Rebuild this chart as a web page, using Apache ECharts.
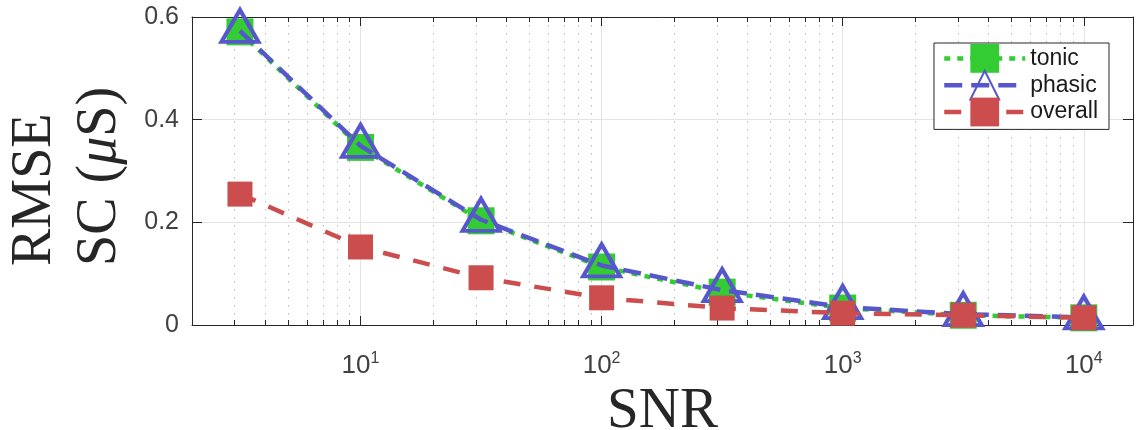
<!DOCTYPE html>
<html>
<head>
<meta charset="utf-8">
<script src="https://cdn.jsdelivr.net/npm/echarts@6/dist/echarts.min.js"></script>
<style>
html,body{margin:0;padding:0;background:#fff;}
#chart{width:1140px;height:430px;}
</style>
</head>
<body>
<div id="chart"></div>
<script>
// ---- data ----
const snr = [3.162, 10, 31.62, 100, 316.2, 1000, 3162, 10000];
const tonic = [0.571, 0.346, 0.203, 0.113, 0.064, 0.033, 0.019, 0.014];
const phasic = [0.573, 0.349, 0.205, 0.116, 0.068, 0.035, 0.021, 0.015];
const overall = [0.255, 0.152, 0.092, 0.053, 0.033, 0.023, 0.019, 0.014];
const seriesNames = ['tonic', 'phasic', 'overall'];
const yTicks = [0, 0.2, 0.4, 0.6];
const xMajorTicks = [10, 100, 1000, 10000];
const xMinorTicks = [3, 4, 5, 6, 7, 8, 9, 20, 30, 40, 50, 60, 70, 80, 90,
  200, 300, 400, 500, 600, 700, 800, 900, 2000, 3000, 4000, 5000, 6000, 7000, 8000, 9000];
const xRange = [2, 16000];

const C_GREEN = '#33cc33', C_BLUE = '#5757cc', C_RED = '#cc4d4d';
const AX = '#262626';
const LBL = '#404040';

const chart = echarts.init(document.getElementById('chart'));

function pair(xs, ys) { return xs.map((x, i) => [x, ys[i]]); }

function xLabel(v) {
  const e = Math.round(Math.log10(v));
  if (xMajorTicks.indexOf(Math.pow(10, e)) < 0 || Math.abs(v - Math.pow(10, e)) > 1e-6 * v) return '';
  return '{b|10}{s|' + e + '}';
}

const option = {
  animation: false,
  backgroundColor: '#fff',
  grid: { left: 192, top: 17, right: 7, bottom: 105, containLabel: false, outerBoundsMode: 'none' },
  xAxis: [{
    type: 'log', logBase: 10, min: xRange[0], max: xRange[1],
    name: 'SNR', nameLocation: 'middle', nameGap: 57,
    nameTextStyle: { fontFamily: 'Liberation Serif', fontSize: 57, color: AX },
    axisLine: { show: true, lineStyle: { color: AX, width: 1 } },
    axisTick: { show: true, inside: true, length: 9, lineStyle: { color: AX } },
    axisLabel: {
      showMinLabel: false, showMaxLabel: false, margin: 26,
      formatter: xLabel,
      rich: {
        b: { fontFamily: 'Liberation Sans', fontSize: 26, color: LBL },
        s: { fontFamily: 'Liberation Sans', fontSize: 16, color: LBL, padding: [0, 0, 13, 0] }
      }
    },
    splitLine: { show: true, lineStyle: { color: '#e3e3e3', width: 1 } }
  }, {
    type: 'log', logBase: 10, min: xRange[0], max: xRange[1], position: 'top',
    axisLine: { show: true, onZero: false, lineStyle: { color: AX, width: 1 } },
    axisTick: { show: true, inside: true, length: 9, lineStyle: { color: AX } },
    axisLabel: { show: false }, splitLine: { show: false }
  }],
  yAxis: [{
    type: 'value', min: 0, max: 0.6, interval: 0.2,
    axisLine: { show: true, lineStyle: { color: AX, width: 1 } },
    axisTick: { show: true, inside: true, length: 10, lineStyle: { color: AX } },
    axisLabel: {
      margin: 13, fontFamily: 'Liberation Sans', fontSize: 25, color: LBL,
      formatter: v => (yTicks.indexOf(Math.round(v * 10) / 10) >= 0 ? String(Math.round(v * 10) / 10) : '')
    },
    splitLine: { show: true, lineStyle: { color: '#e3e3e3', width: 1 } }
  }, {
    type: 'value', min: 0, max: 0.6, interval: 0.2, position: 'right',
    axisLine: { show: true, onZero: false, lineStyle: { color: AX, width: 1 } },
    axisTick: { show: true, inside: true, length: 10, lineStyle: { color: AX } },
    axisLabel: { show: false }, splitLine: { show: false }
  }],
  legend: {
    data: seriesNames,
    orient: 'vertical', right: 31, top: 43,
    backgroundColor: '#fff', borderColor: AX, borderWidth: 1,
    padding: [1, 11, 3, 8],
    itemWidth: 81, itemHeight: 36, itemGap: -3,
    lineStyle: { width: 4.5 },
    textStyle: { fontFamily: 'Liberation Sans', fontSize: 23, color: '#1a1a1a' }
  },
  graphic: [{
    type: 'text', x: 3, y: 266, rotation: Math.PI / 2,
    style: {
      text: '{a|RMSE}\n{a|SC (}{i|μ}{a|S)}',
      align: 'left', verticalAlign: 'top',
      rich: {
        a: { fontFamily: 'Liberation Serif', fontSize: 56, lineHeight: 65, fill: AX },
        i: { fontFamily: 'Liberation Serif', fontStyle: 'italic', fontSize: 56, lineHeight: 65, fill: AX }
      }
    }
  }],
  series: [{
    type: 'custom', name: 'minor', silent: true, z: 1,
    xAxisIndex: 0, yAxisIndex: 0,
    data: xMinorTicks.map(v => [v, 0]),
    renderItem: function (params, api) {
      const x = api.value(0);
      const pb = api.coord([x, 0]);
      const pt = api.coord([x, 0.6]);
      const px = Math.round(pb[0]) + 0.5;
      return {
        type: 'group', children: [
          { type: 'line', shape: { x1: px, y1: pt[1], x2: px, y2: pb[1] },
            style: { stroke: '#b8b8b8', lineWidth: 1, lineDash: [1.5, 6.5] } },
          { type: 'line', shape: { x1: px, y1: pb[1], x2: px, y2: pb[1] - 5 },
            style: { stroke: AX, lineWidth: 1 } },
          { type: 'line', shape: { x1: px, y1: pt[1], x2: px, y2: pt[1] + 5 },
            style: { stroke: AX, lineWidth: 1 } }
        ]
      };
    }
  }, {
    name: 'tonic', type: 'line', z: 3,
    data: pair(snr, tonic),
    symbol: 'rect', symbolSize: 27,
    itemStyle: { color: C_GREEN },
    lineStyle: { color: C_GREEN, width: 4.5, type: [6, 7], cap: 'butt' }
  }, {
    name: 'phasic', type: 'line', z: 4,
    data: pair(snr, phasic),
    symbol: 'triangle', symbolSize: [37, 32], symbolOffset: [0, -5],
    itemStyle: { color: 'rgba(0,0,0,0)', borderColor: C_BLUE, borderWidth: 4 },
    lineStyle: { color: C_BLUE, width: 4.5, type: [18, 9], cap: 'butt' }
  }, {
    name: 'overall', type: 'line', z: 5,
    data: pair(snr, overall),
    symbol: 'rect', symbolSize: 25,
    itemStyle: { color: C_RED },
    lineStyle: { color: C_RED, width: 4.5, type: [17, 14], cap: 'butt' }
  }]
};
chart.setOption(option);
</script>
</body>
</html>
